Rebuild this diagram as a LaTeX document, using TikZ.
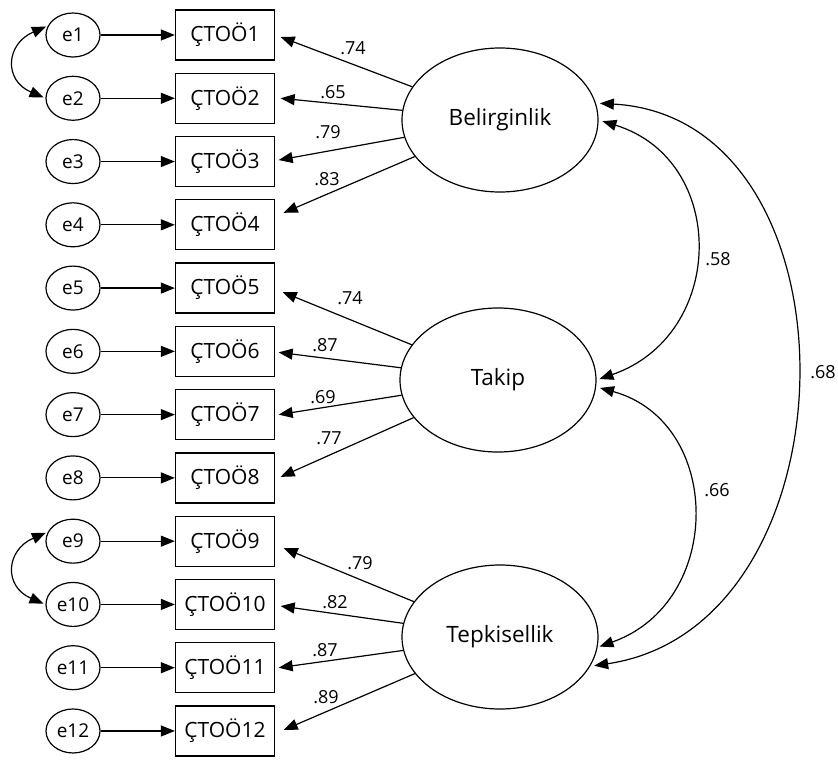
\documentclass[tikz,border=0pt]{standalone}
\usepackage{fontspec}
\setmainfont{Open Sans}
\usetikzlibrary{arrows.meta,shapes.geometric}
\begin{document}
\begin{tikzpicture}[x=1pt,y=-1pt,
  box/.style={draw, line width=1.3pt, minimum width=99pt, minimum height=50pt, inner sep=0pt, font=\fontsize{21}{25}\selectfont},
  err/.style={draw, ellipse, line width=1.2pt, minimum width=54pt, minimum height=44pt, inner sep=0pt, font=\fontsize{19}{23}\selectfont},
  lat/.style={draw, ellipse, line width=1.2pt, minimum width=196pt, minimum height=144pt, inner sep=0pt, font=\fontsize{22.5}{27}\selectfont},
  arr/.style={line width=1.2pt, -{Triangle[length=14pt,width=11pt]}},
  dbl/.style={line width=1.2pt, {Triangle[length=14pt,width=11pt]}-{Triangle[length=14pt,width=11pt]}},
  lbl/.style={font=\fontsize{18}{22}\selectfont, inner sep=0pt}]
\useasboundingbox[fill=white] (0,0) rectangle (838,763);

\foreach \i in {1,...,12} {
  \pgfmathsetmacro\yy{35+63.27*(\i-1)}
  \node[err] (e\i) at (73,\yy) {e\i};
  \node[box] (x\i) at (225,\yy) {ÇTOÖ\i};
  \draw[arr] (e\i) -- (x\i);
}

\node[lat] (B) at (500,120) {Belirginlik};
\node[lat] (T) at (498,380) {Takip};
\node[lat] (P) at (500,637) {Tepkisellik};

\foreach \i/\dx/\dy in {1/5.5/2, 2/5.5/0, 3/3.5/-1.5, 4/8.5/-12, 5/7.5/4, 6/3.5/1, 7/3.5/0, 8/5.5/-1, 9/8.5/7, 10/5.5/1.6, 11/3.5/0, 12/8.5/-1} {
  \coordinate (t\i) at ([shift={(\dx,\dy)}]x\i.east);
}

\foreach \i in {1,...,4} { \draw[arr] (B) -- (t\i); }
\foreach \i in {5,...,8} { \draw[arr] (T) -- (t\i); }
\foreach \i in {9,...,12} { \draw[arr] (P) -- (t\i); }

\node[lbl] (l1) at (353,48) {.74};
\node[lbl] (l2) at (333,92) {.65};
\node[lbl] (l3) at (328,132) {.79};
\node[lbl] (l4) at (327,179) {.83};
\node[lbl] (l5) at (350,298) {.74};
\node[lbl] (l6) at (325,345) {.87};
\node[lbl] (l7) at (323,397) {.69};
\node[lbl] (l8) at (329,438) {.77};
\node[lbl] (l9) at (360,563) {.79};
\node[lbl] (l10) at (335,602) {.82};
\node[lbl] (l11) at (325,650) {.87};
\node[lbl] (l12) at (326,697) {.89};

\draw[dbl, shorten <=2pt, shorten >=2pt] (e1.160) .. controls +(-42,18) and +(-42,-18) .. (e2.180);
\draw[dbl, shorten <=2pt, shorten >=2pt] (e9.160) .. controls +(-42,18) and +(-42,-18) .. (e10.180);

\draw[dbl, shorten <=4pt, shorten >=3pt] (B.east) .. controls +(130,40) and +(130,-45) .. (T.east);
\draw[dbl, shorten <=4pt, shorten >=4pt] (B.10) .. controls +(270,15) and +(270,-40) .. (P.342);
\draw[dbl, shorten <=4pt, shorten >=2pt] (T.356) .. controls +(127,35) and +(127,-45) .. (P.354);

\node[lbl] (c1) at (718,259) {.58};
\node[lbl] (c2) at (717,490) {.66};
\node[lbl] (c3) at (823,372) {.68};
\end{tikzpicture}
\end{document}
